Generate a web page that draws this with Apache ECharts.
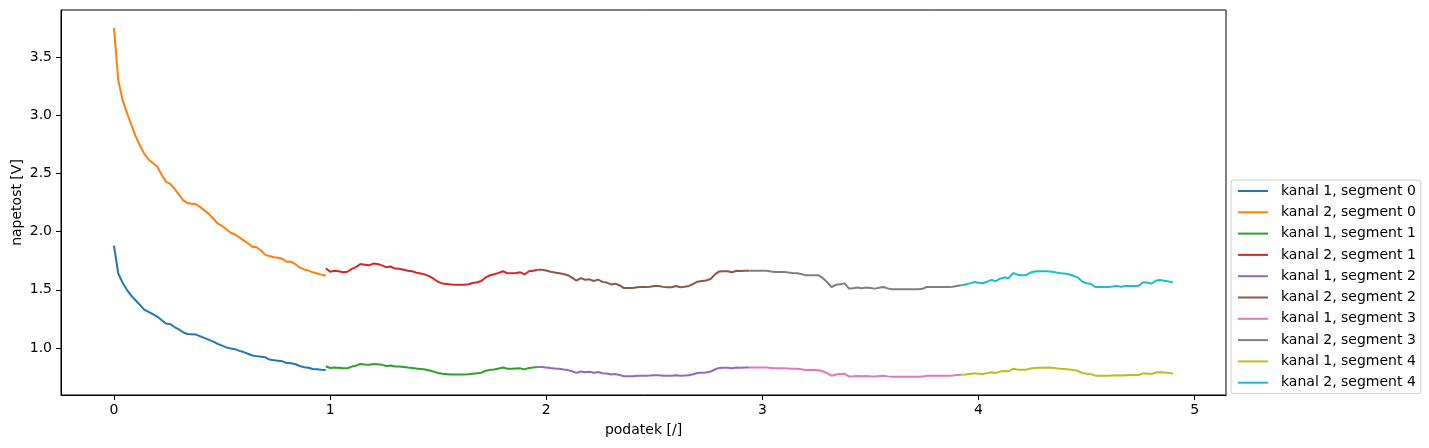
<!DOCTYPE html>
<html>
<head>
<meta charset="utf-8">
<script src="https://cdn.jsdelivr.net/npm/echarts@6/dist/echarts.min.js"></script>
<style>html,body{margin:0;padding:0;background:#fff;}#c{width:1429px;height:448px;}</style>
</head>
<body>
<div id="c"></div>
<script>
// Sampling: each segment holds 50 samples, step 0.02, starting at these x values
const segmentStarts = [0.00, 0.98, 1.96, 2.94, 3.92];
const sampleStep = 0.02;
const xTicks = [0, 1, 2, 3, 4, 5];
const yTicks = [1.0, 1.5, 2.0, 2.5, 3.0, 3.5];
const seriesNames = ['kanal 1, segment 0','kanal 2, segment 0','kanal 1, segment 1','kanal 2, segment 1','kanal 1, segment 2','kanal 2, segment 2','kanal 1, segment 3','kanal 2, segment 3','kanal 1, segment 4','kanal 2, segment 4'];

const k1s0 = [1.88,1.64,1.56,1.50,1.45,1.41,1.37,1.33,1.31,1.29,1.27,1.24,1.21,1.205,1.18,1.16,1.135,1.12,1.118,1.115,1.10,1.085,1.07,1.055,1.035,1.02,1.005,0.995,0.99,0.975,0.965,0.95,0.935,0.93,0.925,0.92,0.90,0.895,0.89,0.885,0.87,0.868,0.86,0.845,0.835,0.83,0.82,0.817,0.813,0.81];
const k2s0 = [3.75,3.30,3.13,3.02,2.92,2.82,2.74,2.67,2.62,2.59,2.56,2.49,2.43,2.41,2.37,2.32,2.27,2.245,2.24,2.235,2.21,2.18,2.15,2.11,2.07,2.05,2.02,1.99,1.975,1.95,1.925,1.90,1.87,1.865,1.84,1.80,1.79,1.78,1.775,1.765,1.74,1.74,1.72,1.69,1.675,1.665,1.65,1.64,1.63,1.62];
const k1s1 = [0.843,0.828,0.832,0.830,0.825,0.826,0.84,0.848,0.862,0.858,0.855,0.862,0.86,0.855,0.846,0.849,0.841,0.84,0.836,0.832,0.829,0.823,0.82,0.815,0.807,0.797,0.785,0.778,0.775,0.772,0.772,0.772,0.772,0.774,0.779,0.782,0.788,0.804,0.812,0.816,0.823,0.832,0.821,0.821,0.823,0.825,0.816,0.829,0.832,0.836];
const k2s1 = [1.685,1.655,1.664,1.66,1.65,1.655,1.68,1.695,1.722,1.716,1.71,1.725,1.722,1.71,1.693,1.70,1.682,1.68,1.672,1.664,1.659,1.647,1.64,1.63,1.615,1.593,1.568,1.555,1.55,1.545,1.544,1.544,1.544,1.548,1.558,1.565,1.575,1.607,1.625,1.633,1.645,1.659,1.642,1.642,1.645,1.65,1.632,1.659,1.664,1.672];
const k1s2 = [0.836,0.836,0.833,0.828,0.824,0.821,0.815,0.81,0.800,0.786,0.798,0.792,0.795,0.787,0.793,0.783,0.780,0.772,0.777,0.768,0.757,0.757,0.758,0.761,0.762,0.762,0.763,0.766,0.766,0.762,0.761,0.761,0.766,0.761,0.763,0.766,0.775,0.785,0.788,0.79,0.797,0.815,0.829,0.83,0.83,0.825,0.832,0.831,0.832,0.832];
const k2s2 = [1.672,1.672,1.665,1.655,1.648,1.643,1.636,1.625,1.605,1.578,1.60,1.586,1.59,1.576,1.587,1.568,1.562,1.546,1.553,1.537,1.515,1.515,1.516,1.522,1.523,1.524,1.526,1.533,1.533,1.525,1.521,1.522,1.533,1.522,1.526,1.533,1.55,1.57,1.575,1.58,1.593,1.63,1.658,1.659,1.659,1.65,1.664,1.662,1.664,1.664];
const k1s3 = [0.832,0.832,0.832,0.832,0.832,0.829,0.826,0.826,0.826,0.824,0.822,0.821,0.817,0.81,0.81,0.81,0.808,0.80,0.783,0.762,0.772,0.776,0.778,0.756,0.757,0.76,0.757,0.76,0.757,0.755,0.759,0.762,0.756,0.752,0.752,0.752,0.752,0.752,0.752,0.752,0.754,0.762,0.762,0.762,0.762,0.762,0.762,0.764,0.767,0.77];
const k2s3 = [1.664,1.664,1.664,1.664,1.664,1.658,1.653,1.653,1.653,1.648,1.644,1.642,1.635,1.624,1.624,1.624,1.624,1.60,1.565,1.524,1.543,1.548,1.555,1.512,1.513,1.52,1.514,1.52,1.515,1.51,1.518,1.524,1.512,1.504,1.504,1.504,1.504,1.504,1.504,1.504,1.508,1.524,1.524,1.524,1.524,1.524,1.524,1.527,1.533,1.538];
const k1s4 = [0.77,0.772,0.777,0.782,0.779,0.776,0.784,0.791,0.786,0.797,0.803,0.80,0.822,0.814,0.812,0.814,0.824,0.828,0.83,0.83,0.832,0.83,0.825,0.821,0.819,0.815,0.81,0.802,0.785,0.778,0.775,0.762,0.762,0.762,0.762,0.764,0.766,0.763,0.766,0.767,0.767,0.767,0.781,0.781,0.777,0.789,0.792,0.789,0.786,0.781];
const k2s4 = [1.538,1.545,1.555,1.566,1.56,1.556,1.57,1.585,1.574,1.595,1.607,1.60,1.644,1.630,1.625,1.627,1.648,1.657,1.659,1.659,1.659,1.655,1.648,1.643,1.639,1.632,1.62,1.605,1.57,1.556,1.55,1.524,1.524,1.524,1.524,1.528,1.533,1.526,1.533,1.533,1.533,1.534,1.562,1.562,1.553,1.578,1.584,1.578,1.572,1.562];

const seriesValues = [k1s0,k2s0,k1s1,k2s1,k1s2,k2s2,k1s3,k2s3,k1s4,k2s4];
const colors = ['#1f77b4','#ff7f0e','#2ca02c','#d62728','#9467bd','#8c564b','#e377c2','#7f7f7f','#bcbd22','#17becf'];

const series = seriesValues.map((vals, i) => {
  const start = segmentStarts[Math.floor(i / 2)];
  return {
    name: seriesNames[i],
    type: 'line',
    data: vals.map((v, j) => [start + j * sampleStep, v]),
    showSymbol: false,
    symbol: 'none',
    animation: false,
    lineStyle: { width: 2, color: colors[i] },
    itemStyle: { color: colors[i] },
    z: 2 + i
  };
});

const font = 'DejaVu Sans';
const chart = echarts.init(document.getElementById('c'), null, { renderer: 'canvas' });
chart.setOption({
  animation: false,
  backgroundColor: '#fff',
  grid: { left: 61, right: 203, top: 10, bottom: 53, show: true, borderColor: '#000', borderWidth: 1, backgroundColor: 'transparent', containLabel: false, outerBoundsMode: 'none' },
  xAxis: {
    type: 'value', min: -0.245, max: 5.145,
    name: 'podatek [/]', nameLocation: 'middle', nameGap: 28, nameMoveOverlap: false,
    nameTextStyle: { fontFamily: font, fontSize: 14, color: '#000' },
    axisLine: { show: true, onZero: false, lineStyle: { color: '#000', width: 1 } },
    axisTick: { show: true, length: 5, customValues: xTicks, lineStyle: { color: '#000' } },
    axisLabel: { customValues: xTicks, margin: 8, fontFamily: font, fontSize: 14, color: '#000', formatter: v => String(v) },
    splitLine: { show: false }
  },
  yAxis: {
    type: 'value', min: 0.596, max: 3.904,
    name: 'napetost [V]', nameLocation: 'middle', nameGap: 37, nameRotate: 90, nameMoveOverlap: false,
    nameTextStyle: { fontFamily: font, fontSize: 14, color: '#000' },
    axisLine: { show: true, onZero: false, lineStyle: { color: '#000', width: 1 } },
    axisTick: { show: true, length: 5, customValues: yTicks, lineStyle: { color: '#000' } },
    axisLabel: { customValues: yTicks, margin: 9, fontFamily: font, fontSize: 14, color: '#000', formatter: v => v.toFixed(1) },
    splitLine: { show: false }
  },
  legend: {
    orient: 'vertical', left: 1231, top: 180,
    padding: [4, 5, 4, 7],
    itemWidth: 30, itemHeight: 14, itemGap: 7.3,
    icon: 'path://M0,0L30,0L30,2L0,2Z',
    backgroundColor: '#fff', borderColor: '#cccccc', borderWidth: 1, borderRadius: 3,
    textStyle: { fontFamily: font, fontSize: 14, color: '#000', padding: [0, 0, 0, 8] },
    data: seriesNames
  },
  series: series
});
</script>
</body>
</html>
